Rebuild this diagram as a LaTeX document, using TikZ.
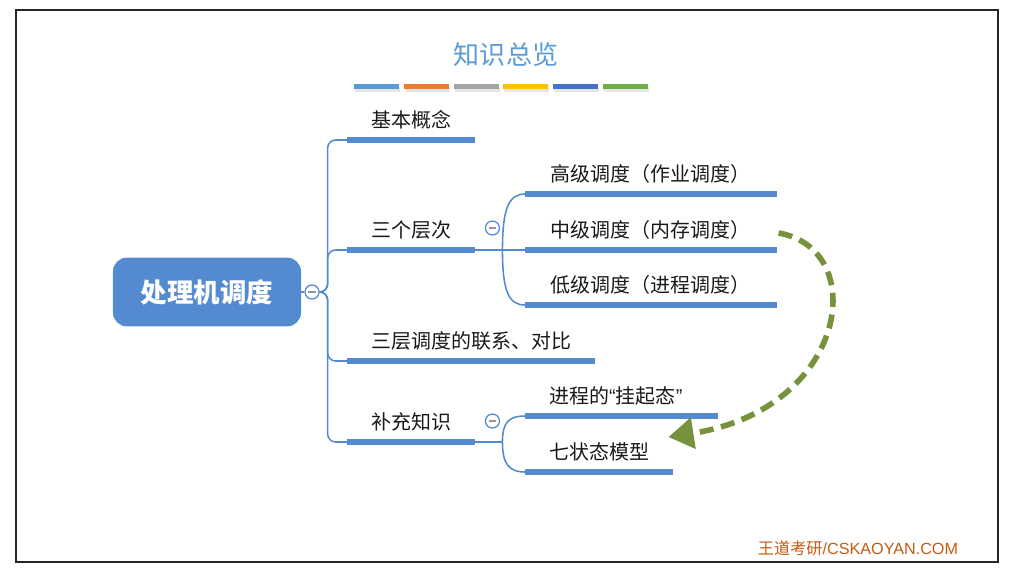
\documentclass[tikz,border=0pt]{standalone}
\usepackage{fontspec}
\setmainfont{Noto Sans CJK SC}
\newfontfamily\latinfont{Liberation Sans}
\usepackage{tikz}
\usetikzlibrary{arrows.meta,positioning,calc}
\definecolor{mmblue}{RGB}{84,138,208}
\definecolor{titleblue}{RGB}{91,155,213}
\definecolor{barorange}{RGB}{237,125,49}
\definecolor{bargray}{RGB}{165,165,165}
\definecolor{baryellow}{RGB}{255,192,0}
\definecolor{bardblue}{RGB}{68,114,196}
\definecolor{bargreen}{RGB}{112,173,71}
\definecolor{arrowgreen}{RGB}{118,146,60}
\definecolor{wmred}{RGB}{197,90,17}
\definecolor{btngray}{RGB}{150,150,150}

\begin{document}
\begin{tikzpicture}[
    x=0.025cm, y=-0.025cm,
    rootblock/.style={rectangle, fill=mmblue, rounded corners=0.35cm, minimum width=4.7cm, minimum height=1.72cm, align=center, text=white, font=\fontsize{18.8}{22}\selectfont\bfseries},
    topic/.style={anchor=south west, inner xsep=0.6cm, inner ysep=6.8pt, text height=11pt, text depth=2pt, font=\fontsize{14.2}{17}\selectfont, text=black!90},
    subtopic/.style={topic, minimum width=6.275cm},
    btn/.style={circle, draw=mmblue, fill=white, line width=0.9pt, minimum size=0.35cm, inner sep=0pt},
    branch/.style={draw=mmblue, line width=1.1pt, rounded corners=0.2cm},
    subbranch/.style={draw=mmblue, line width=1.1pt},
    uline/.style={draw=mmblue, line width=3.8pt},
    darrow/.style={-{Triangle[length=0.63cm, width=0.76cm]}, arrowgreen, line width=4pt, dash pattern=on 10pt off 5.5pt},
    title/.style={font=\fontsize{18.5}{22}\selectfont, text=titleblue},
    wmlabel/.style={font=\fontsize{11.5}{13}\selectfont, text=wmred}
]
\useasboundingbox (0,0) rectangle (1014,575);

% Frame
\draw[line width=1.4pt, black!85] (16,10) rectangle (998,562);

% Title and colour bars
\node[title] (title) at (506,55) {知识总览};
\foreach \c [count=\i from 0, evaluate=\i as \x using 354+49.8*\i] in {titleblue,barorange,bargray,baryellow,bardblue,bargreen} {
  \fill[black!10] (\x+1,87) rectangle ++(45,4.5);
  \fill[\c] (\x,83.5) rectangle ++(45,5);
}

% Root
\node[rootblock] (root) at (207,292) {处理机调度};
\node[btn] (rootbtn) at (312,292) {\textcolor{btngray}{\rule{5pt}{1.2pt}}};

% First level
\node[topic] (basic) at (347,140) {基本概念};
\node[topic] (levels) at (347,250) {三个层次};
\node[topic] (relation) at (347,361) {三层调度的联系、对比};
\node[topic] (extra) at (347,442) {补充知识};

% Second level: three levels
\node[subtopic] (high) at (525,194) {高级调度（作业调度）};
\node[subtopic] (mid) at (525,250) {中级调度（内存调度）};
\node[subtopic] (low) at (525,305) {低级调度（进程调度）};
\node[btn] (levelsbtn) at ($(levels.south east)+(17,-22)$) {\textcolor{btngray}{\rule{5pt}{1.2pt}}};

% Second level: extra
\node[topic, text width=3.62cm, align=left] (suspend) at (525,416) {进程的{\latinfont“}挂起态{\latinfont”}};
\node[topic] (seven) at (525,472) {七状态模型};
\node[btn] (extrabtn) at ($(extra.south east)+(17,-21)$) {\textcolor{btngray}{\rule{5pt}{1.2pt}}};

% Underlines
\foreach \n in {basic,levels,relation,extra,high,mid,low,suspend,seven}
  \draw[uline] (\n.south west) -- (\n.south east);

% Branches
\draw[branch] (root) -- (rootbtn);
\foreach \n in {basic,levels,relation,extra}
  \draw[branch] (rootbtn.east) -- ++(8,0) |- (\n.south west);

\path (levels.south east) ++(27,0) coordinate (levelsj);
\draw[subbranch] (levels.south east) -- (levelsj);
\draw[subbranch] (levelsj) .. controls +(0,-42) and +(-16,0) .. (high.south west);
\draw[subbranch] (levelsj) -- (mid.south west);
\draw[subbranch] (levelsj) .. controls +(0,42) and +(-16,0) .. (low.south west);

\path (extra.south east) ++(27,0) coordinate (extraj);
\draw[subbranch] (extra.south east) -- (extraj);
\draw[subbranch] (extraj) .. controls +(0,-20) and +(-16,0) .. (suspend.south west);
\draw[subbranch] (extraj) .. controls +(0,22) and +(-16,0) .. (seven.south west);

% Suspend link
\draw[darrow] ($(mid.east)+(2,2)$) .. controls +(92,16) and +(180,-28) .. ($(seven.north east)+(-5,3)$);

% Watermark
\node[wmlabel] (wm) at (858,548) {王道考研{\latinfont /CSKAOYAN.COM}};

\end{tikzpicture}
\end{document}
